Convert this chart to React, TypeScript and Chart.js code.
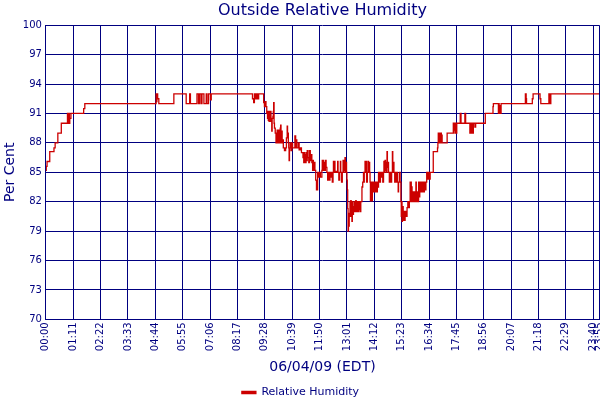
import { useEffect, useRef } from "react";
import Chart from "chart.js/auto";

const NAVY = "#000080";
const RED = "#cc0000";
const FONT = "'DejaVu Sans', Verdana, sans-serif";

// x axis ticks every 71 minutes, plus the last reading
const tickMinutes = [0, 71, 142, 213, 284, 355, 426, 497, 568, 639, 710, 781, 852, 923, 994, 1065, 1136, 1207, 1278, 1349, 1420, 1435];
const tickLabels = ["00:00", "01:11", "02:22", "03:33", "04:44", "05:55", "07:06", "08:17", "09:28", "10:39", "11:50", "13:01", "14:12", "15:23", "16:34", "17:45", "18:56", "20:07", "21:18", "22:29", "23:40", "23:55"];

// [minute of day, relative humidity %] — each value holds until the next reading
const nightReadings: [number, number][] = [
  [0, 85.2], [1, 85.6], [3, 86.1], [10, 87.1], [21, 87.5], [24, 88], [31, 89], [40, 90],
  [56, 91], [57, 90], [58, 91], [59, 90], [60, 91], [61, 90], [62, 90.5], [65, 91],
  [98, 91.5], [101, 92], [286, 93], [287, 92.2], [288, 93], [290, 92.5], [293, 92],
  [332, 93], [364, 92], [373, 93], [375, 92], [392, 93], [396, 92], [399, 93], [403, 92],
  [405, 93], [410, 92], [416, 93], [418, 92], [422, 93], [427, 92.4], [429, 93],
];

const morningReadings: [number, number][] = [
  [536, 92.5], [539, 92.1], [541, 93], [543, 92.5], [546, 93], [549, 92.5], [552, 93],
  [565, 92.1], [567, 91.7], [569, 92.2], [571, 91.7], [573, 91], [575, 90.5], [576, 91.2],
  [577, 90.3], [578, 91.2], [579, 90.2], [580, 91], [581, 90.2], [582, 91.2], [584, 90.2],
  [586, 89.2], [587, 90.5], [589, 90.7], [590, 91.2], [591, 92.1], [592, 90], [593, 89.5],
  [595, 89], [597, 88], [600, 89.3], [601, 88], [602, 89.3], [603, 88], [604, 89.3],
  [605, 88.2], [606, 89], [607, 88], [608, 89.5], [609, 89.8], [610, 88.5], [611, 88],
  [612, 89.2], [613, 88], [614, 88.3], [616, 87.5], [619, 87.2], [622, 87.5], [624, 88.5],
  [626, 89.7], [627, 88.5], [628, 89], [629, 88], [630, 87.5], [631, 86.2], [632, 87.5],
  [634, 88], [636, 87.2], [638, 88], [640, 87.5], [646, 88.7], [648, 87.5], [650, 88.3],
  [651, 87.5], [655, 88], [657, 87.3], [660, 87.5], [663, 87], [667, 86.5], [668, 87],
  [669, 86], [670, 87], [671, 86], [672, 86.8], [673, 86], [675, 87], [676, 86.2],
  [678, 87.2], [680, 86.5], [682, 86], [684, 87.2], [686, 86.2], [688, 86.8], [690, 86],
  [692, 85.2], [693, 86.2], [694, 85.2], [696, 86], [698, 85.2], [700, 84.2], [702, 83.2],
  [705, 85], [708, 84.5], [709, 85], [712, 84.5], [716, 85.2], [717, 86.2], [718, 85.2],
  [719, 86.2], [720, 85.2], [721, 86], [723, 85.2], [725, 86.2], [727, 85.5], [729, 85],
  [731, 84.2], [733, 85], [735, 84.2], [737, 85], [739, 84.5], [741, 85], [743, 84], [745, 85],
];

const afternoonReadings: [number, number][] = [
  [746, 86.1], [747, 85], [749, 86.1], [750, 85], [752, 85.1], [755, 85], [757, 86.1],
  [758, 85], [760, 84.2], [762, 85], [764, 86.1], [765, 85], [767, 84], [769, 85],
  [771, 86.2], [772, 85], [773, 86.2], [774, 85.2], [776, 86.5], [777, 85], [779, 86],
  [780, 85], [781, 84.2], [782, 83.2], [783, 81.3], [784, 79], [785, 80.4], [786, 79.5],
  [787, 80.8], [789, 82], [790, 80.5], [791, 82.1], [792, 81], [794, 80], [795, 82],
  [796, 80.7], [798, 81.5], [800, 82], [801, 81], [802, 82], [803, 81], [804, 82.1],
  [805, 81], [806, 82], [807, 81], [809, 82], [810, 81], [811, 82], [812, 81.2], [814, 82],
  [815, 81], [817, 82], [820, 83.5], [822, 84], [824, 85], [825, 84], [826, 85], [828, 86.1],
  [829, 85], [831, 86.1], [832, 84], [834, 85], [836, 86.1], [837, 85], [839, 86], [840, 85],
  [841, 84], [842, 82.1], [843, 84], [844, 82.5], [845, 83.5], [846, 82.1], [847, 84],
  [848, 83], [850, 84], [852, 83], [853, 84], [855, 83], [856, 84], [858, 83], [860, 84],
  [862, 83.5], [863, 85], [864, 84], [865, 85], [867, 84], [868, 85], [870, 84.5], [872, 85],
  [874, 84], [876, 85], [877, 86.1], [878, 85], [880, 86.2], [881, 85.2], [883, 86],
  [884, 85], [885, 87.1], [886, 85.5], [888, 86], [889, 85], [891, 84], [893, 85], [895, 84],
  [897, 85], [899, 87.1], [900, 85], [902, 86], [903, 85], [905, 84], [906, 85], [908, 84],
  [910, 85], [912, 84], [914, 83], [915, 84], [917, 85], [919, 84], [921, 82], [922, 80.5],
  [923, 82], [924, 80], [925, 81.5], [927, 80.1], [928, 81], [930, 80.1], [932, 81],
  [934, 80.5], [937, 81.4], [939, 82], [941, 81.4], [943, 82], [945, 84], [946, 82],
  [947, 84], [948, 82.5], [949, 83.5], [950, 82], [952, 83], [954, 82], [955, 83], [956, 82],
  [957, 83], [958, 82], [960, 84], [961, 82.5], [962, 83], [963, 82], [965, 83], [966, 82],
  [967, 84], [968, 82.5], [970, 83], [971, 84], [972, 83], [973, 84], [974, 83], [976, 84],
  [977, 83], [979, 84], [980, 83], [982, 84], [984, 83.2], [986, 84], [988, 85], [989, 84.3],
  [990, 85], [991, 84.3], [992, 85], [993, 84.3], [995, 85], [996, 84.3], [997, 85],
];

const eveningReadings: [number, number][] = [
  [1005, 87.1], [1016, 87.5], [1017, 88], [1018, 89], [1019, 88], [1021, 88.5], [1022, 89],
  [1023, 88], [1025, 89], [1026, 88], [1027, 88.8], [1028, 88], [1041, 89], [1057, 90],
  [1058, 89], [1059, 90], [1060, 89.3], [1061, 90], [1063, 89], [1066, 90], [1075, 91],
  [1077, 90], [1087, 91], [1089, 90], [1100, 89], [1101, 90], [1102, 89], [1103, 90],
  [1104, 89], [1105, 90], [1106, 89], [1109, 90], [1113, 89.6], [1115, 90], [1140, 91],
  [1160, 91.7], [1161, 92], [1174, 91], [1175, 92], [1176, 91], [1177, 91.8], [1178, 91],
  [1181, 92], [1244, 93], [1246, 92.5], [1247, 92], [1262, 92.5], [1264, 93], [1282, 92.5],
  [1284, 92], [1305, 93], [1306, 92], [1307, 93], [1308, 92], [1310, 93], [1435, 93],
];

const readings = [...nightReadings, ...morningReadings, ...afternoonReadings, ...eveningReadings];

export default function App() {
  const canvasRef = useRef<HTMLCanvasElement | null>(null);

  useEffect(() => {
    document.body.style.margin = "0";
    if (!canvasRef.current) return;
    Chart.defaults.font.family = FONT;

    const chart = new Chart(canvasRef.current, {
      type: "line",
      data: {
        datasets: [
          {
            label: "Relative Humidity",
            data: readings.map(([x, y]) => ({ x, y })),
            borderColor: RED,
            backgroundColor: RED,
            borderWidth: 1.3,
            pointRadius: 0,
            stepped: true,
          },
        ],
      },
      options: {
        animation: false,
        responsive: false,
        layout: { padding: { left: 2, right: 1, top: 0, bottom: -8 } },
        plugins: {
          title: {
            display: true,
            fullSize: false,
            text: "Outside Relative Humidity",
            color: NAVY,
            font: { size: 16, weight: "normal" },
            padding: { top: 1, bottom: 5 },
          },
          legend: {
            position: "bottom",
            labels: { color: NAVY, boxWidth: 14, boxHeight: 2, font: { size: 11 }, padding: 0 },
          },
          tooltip: { enabled: false },
        },
        scales: {
          x: {
            type: "linear",
            min: 0,
            max: 1435,
            afterBuildTicks: (scale) => {
              scale.ticks = tickMinutes.map((value) => ({ value }));
            },
            afterFit: (scale) => {
              scale.paddingLeft = 0;
              scale.paddingRight = 0;
            },
            ticks: {
              autoSkip: false,
              minRotation: 90,
              maxRotation: 90,
              color: NAVY,
              font: { size: 10 },
              padding: 3,
              callback: (value) => tickLabels[tickMinutes.indexOf(Number(value))] ?? "",
            },
            grid: { color: NAVY, drawTicks: false },
            border: { color: NAVY },
            title: {
              display: true,
              text: "06/04/09 (EDT)",
              color: NAVY,
              font: { size: 14 },
              padding: { top: 5, bottom: 11 },
            },
          },
          y: {
            min: 70,
            max: 100,
            ticks: { stepSize: 3, color: NAVY, font: { size: 10 }, padding: 4 },
            grid: { color: NAVY, drawTicks: false },
            border: { color: NAVY },
            title: {
              display: true,
              text: "Per Cent",
              color: NAVY,
              font: { size: 14 },
              padding: { top: 0, bottom: 0 },
            },
          },
        },
      },
    });

    return () => {
      chart.destroy();
    };
  }, []);

  return <canvas ref={canvasRef} width={600} height={400} style={{ display: "block" }} />;
}
